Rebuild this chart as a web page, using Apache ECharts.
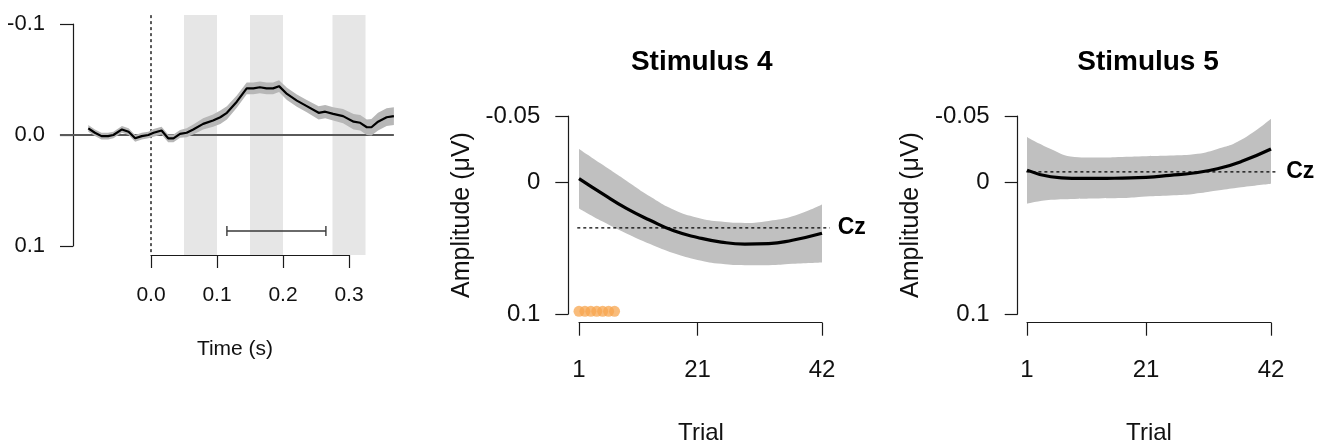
<!DOCTYPE html>
<html><head><meta charset="utf-8">
<script src="https://cdn.jsdelivr.net/npm/echarts@6/dist/echarts.min.js"></script>
<style>html,body{margin:0;padding:0;background:#fff}#c{width:1325px;height:444px}</style>
</head><body><div id="c"></div>
<script>
// ---- Left panel: ERP time course ----
const leftTime = [-0.095,-0.085,-0.075,-0.065,-0.057,-0.044,-0.034,-0.024,-0.014,-0.004,0.004,0.016,0.026,0.034,0.044,0.054,0.064,0.079,0.094,0.105,0.115,0.130,0.145,0.155,0.165,0.175,0.185,0.194,0.206,0.221,0.236,0.254,0.264,0.276,0.291,0.307,0.317,0.327,0.334,0.344,0.357,0.368];
const leftAmp = [-0.006,-0.002,0.001,0.001,0.000,-0.005,-0.003,0.003,0.001,0.000,-0.002,-0.004,0.003,0.003,-0.001,-0.002,-0.005,-0.010,-0.013,-0.016,-0.020,-0.030,-0.042,-0.042,-0.043,-0.042,-0.042,-0.044,-0.037,-0.031,-0.026,-0.020,-0.021,-0.019,-0.017,-0.012,-0.011,-0.007,-0.007,-0.012,-0.016,-0.017];
const leftSE = [0.003,0.003,0.003,0.003,0.003,0.003,0.003,0.003,0.003,0.003,0.0035,0.0035,0.0035,0.0035,0.0035,0.004,0.0045,0.005,0.0055,0.006,0.006,0.0055,0.0053,0.0053,0.0053,0.0053,0.0053,0.0053,0.0055,0.0055,0.0055,0.006,0.006,0.006,0.0065,0.007,0.007,0.007,0.0075,0.008,0.008,0.008];
const shadeStart = [0.05, 0.15, 0.275];
const shadeEnd = [0.10, 0.20, 0.325];
const errBarRange = [0.115, 0.265];
const errBarLevel = 0.0865;
const leftYTicks = [-0.1, 0.0, 0.1];
const leftXTicks = [0.0, 0.1, 0.2, 0.3];

// ---- Middle / right panels: amplitude over trials ----
const trialPts = [1,5,9,13,17,21,25,29,33,37,42];
const stim4Mean = [-0.0026,0.009,0.020,0.029,0.037,0.042,0.0455,0.0470,0.0467,0.0441,0.0388];
const stim4Low  = [-0.025,-0.013,-0.001,0.011,0.021,0.027,0.030,0.031,0.0295,0.026,0.017];
const stim4High = [0.020,0.030,0.039,0.047,0.054,0.059,0.062,0.063,0.063,0.062,0.061];
const stim5Mean = [-0.009,-0.004,-0.0028,-0.0027,-0.003,-0.0035,-0.005,-0.0068,-0.010,-0.0155,-0.025];
const stim5Low  = [-0.034,-0.025,-0.019,-0.0185,-0.019,-0.0195,-0.020,-0.021,-0.025,-0.032,-0.048];
const stim5High = [0.0165,0.0135,0.0128,0.0125,0.0122,0.011,0.0102,0.009,0.0065,0.004,0.0013];
const stim4Cz = 0.0347;
const stim5Cz = -0.0076;
const stim4SigTrials = [1,2,3,4,5,6,7];
const trialTicks = [1, 21, 42];
const ampTicks = [-0.05, 0, 0.1];
const titles = ['Stimulus 4', 'Stimulus 5'];

const FONT = "'Liberation Sans', Arial, Helvetica, sans-serif";
const AX = '#1a1a1a';

const chart = echarts.init(document.getElementById('c'), null, {renderer: 'canvas'});

const grids = [], xAxes = [], yAxes = [], series = [];
function hiddenAxis(min, max, extra) {
  return Object.assign({type: 'value', min, max, show: false}, extra || {});
}
function addGrid(g, xa, ya) {
  grids.push(Object.assign({containLabel: false}, g));
  const i = grids.length - 1;
  xAxes.push(Object.assign({gridIndex: i}, xa));
  yAxes.push(Object.assign({gridIndex: i}, ya));
  return i;
}

// ===== LEFT PANEL =====
// data grid: x [-0.15,0.4] -> 660 px/unit, 0 at x=151 ; y [-0.11,0.11] -> 1110 px/unit, 0 at y=135
const gL = addGrid({left: 52, top: 12.9, width: 363, height: 244.2},
  hiddenAxis(-0.15, 0.4), hiddenAxis(-0.11, 0.11, {inverse: true}));
// shaded windows
series.push({
  type: 'line', xAxisIndex: gL, yAxisIndex: gL, data: [], z: 0,
  markArea: {silent: true, itemStyle: {color: '#e6e6e6'},
    data: shadeStart.map((s, i) => [{coord: [s, -0.108]}, {coord: [shadeEnd[i], 0.108]}])}
});
// zero line
series.push({type: 'line', xAxisIndex: gL, yAxisIndex: gL, symbol: 'none', z: 1,
  lineStyle: {color: '#5a5a5a', width: 2}, data: [[-0.138, 0], [0.368, 0]]});
// stimulus onset dashed
series.push({type: 'line', xAxisIndex: gL, yAxisIndex: gL, symbol: 'none', z: 1,
  lineStyle: {color: '#000', width: 1.3, type: [3, 3]}, data: [[0, -0.108], [0, 0.108]]});
// SE band (polygon through the axis scales)
series.push({
  type: 'custom', xAxisIndex: gL, yAxisIndex: gL, data: [0], z: 2, silent: true,
  renderItem: (params, api) => {
    const pts = [];
    for (let i = 0; i < leftTime.length; i++) pts.push(api.coord([leftTime[i], leftAmp[i] - leftSE[i]]));
    for (let i = leftTime.length - 1; i >= 0; i--) pts.push(api.coord([leftTime[i], leftAmp[i] + leftSE[i]]));
    return {type: 'polygon', shape: {points: pts}, style: {fill: '#b7b7b7'}};
  }
});
series.push({type: 'line', xAxisIndex: gL, yAxisIndex: gL, symbol: 'none', z: 5,
  lineStyle: {color: '#000', width: 2.2}, data: leftTime.map((t, i) => [t, leftAmp[i]])});
// error bar
const eb = errBarRange;
series.push({type: 'line', xAxisIndex: gL, yAxisIndex: gL, symbol: 'none', z: 5,
  lineStyle: {color: '#3a3a3a', width: 1.4},
  data: [[eb[0], errBarLevel - 0.0045], [eb[0], errBarLevel + 0.0045], [eb[0], errBarLevel], [eb[1], errBarLevel], [eb[1], errBarLevel - 0.0045], [eb[1], errBarLevel + 0.0045]]});

// left y axis
addGrid({left: 73, top: 24, width: 2, height: 222},
  hiddenAxis(0, 1),
  {type: 'value', min: -0.1, max: 0.1, interval: 0.1, inverse: true, position: 'left',
   axisLine: {show: true, lineStyle: {color: AX, width: 1.2}},
   axisTick: {show: true, length: 13, lineStyle: {color: AX, width: 1.2}, customValues: leftYTicks},
   axisLabel: {show: true, margin: 28, fontSize: 22, fontFamily: FONT, color: '#111', customValues: leftYTicks,
     formatter: v => v.toFixed(1)},
   splitLine: {show: false}});
// left x axis
addGrid({left: 151, top: 200, width: 198, height: 55},
  {type: 'value', min: 0, max: 0.3, interval: 0.1, position: 'bottom',
   axisLine: {show: true, lineStyle: {color: AX, width: 1.2}},
   axisTick: {show: true, length: 13, lineStyle: {color: AX, width: 1.2}, customValues: leftXTicks},
   axisLabel: {show: true, margin: 30, fontSize: 21, fontFamily: FONT, color: '#111', customValues: leftXTicks,
     formatter: v => v.toFixed(1)},
   splitLine: {show: false}},
  hiddenAxis(0, 1));

// ===== TRIAL PANELS =====
function trialPanel(p) {
  const pxPerTrial = p.xw / 41;
  const g = addGrid({left: p.x1 - pxPerTrial, top: 116, width: 44 * pxPerTrial, height: 198},
    hiddenAxis(0, 44), hiddenAxis(-0.05, 0.1, {inverse: true}));
  const first = trialPts[0], last = trialPts[trialPts.length - 1];
  // confidence band: gray fill below the lower-bound curve, then white fill below the upper-bound curve
  series.push({type: 'line', xAxisIndex: g, yAxisIndex: g, symbol: 'none', smooth: 0.5, z: 2, silent: true,
    lineStyle: {width: 0, opacity: 0}, areaStyle: {color: '#c0c0c0', opacity: 1, origin: 'end'},
    data: trialPts.map((t, i) => [t, p.low[i]])});
  series.push({type: 'line', xAxisIndex: g, yAxisIndex: g, symbol: 'none', smooth: 0.5, z: 3, silent: true,
    lineStyle: {width: 0, opacity: 0}, areaStyle: {color: '#ffffff', opacity: 1, origin: 'end'},
    data: trialPts.map((t, i) => [t, p.high[i]])});
  // clean the anti-aliased band edges below the band
  [[first, p.high[0]], [last, p.high[p.high.length - 1]]].forEach(([t, h]) => {
    series.push({type: 'line', xAxisIndex: g, yAxisIndex: g, symbol: 'none', z: 4, silent: true,
      lineStyle: {color: '#ffffff', width: 2.5, cap: 'butt'}, data: [[t, h + 0.001], [t, 0.1]]});
  });
  series.push({type: 'line', xAxisIndex: g, yAxisIndex: g, symbol: 'none', smooth: 0.5, z: 5,
    lineStyle: {color: '#000', width: 3.2}, data: trialPts.map((t, i) => [t, p.mean[i]])});
  series.push({type: 'line', xAxisIndex: g, yAxisIndex: g, symbol: 'none', z: 6,
    lineStyle: {color: '#000', width: 1.3, type: [3, 3]}, data: [[p.czFrom, p.cz], [p.czTo, p.cz]],
    endLabel: {show: true, formatter: 'Cz', distance: 8, fontSize: 23, fontWeight: 'bold', fontFamily: FONT, color: '#000'}});
  if (p.sig) {
    series.push({type: 'scatter', xAxisIndex: g, yAxisIndex: g, symbol: 'circle', symbolSize: 11, z: 7,
      itemStyle: {color: '#f7a54f', opacity: 0.75}, data: p.sig.map(t => [t, 0.098])});
  }
  // y axis
  addGrid({left: p.yAxisX, top: 116, width: 2, height: 198},
    hiddenAxis(0, 1),
    {type: 'value', min: -0.05, max: 0.1, inverse: true, position: 'left',
     axisLine: {show: true, lineStyle: {color: AX, width: 1.2}},
     axisTick: {show: true, length: 13, lineStyle: {color: AX, width: 1.2}, customValues: ampTicks},
     axisLabel: {show: true, margin: 28, fontSize: 24, fontFamily: FONT, color: '#111', customValues: ampTicks,
       formatter: v => (v === 0 ? '0' : String(v))},
     splitLine: {show: false}});
  // x axis
  addGrid({left: p.x1, top: 270, width: p.xw, height: 52.7},
    {type: 'value', min: 1, max: 42, position: 'bottom',
     axisLine: {show: true, lineStyle: {color: AX, width: 1.2}},
     axisTick: {show: true, length: 13, lineStyle: {color: AX, width: 1.2}, customValues: trialTicks},
     axisLabel: {show: true, margin: 36, fontSize: 24, fontFamily: FONT, color: '#111', customValues: trialTicks},
     splitLine: {show: false}},
    hiddenAxis(0, 1));
}
trialPanel({x1: 579, xw: 243, yAxisX: 568.3, mean: stim4Mean, low: stim4Low, high: stim4High,
  cz: stim4Cz, czFrom: 0.71, czTo: 43.3, sig: stim4SigTrials});
trialPanel({x1: 1027, xw: 244, yAxisX: 1017.7, mean: stim5Mean, low: stim5Low, high: stim5High,
  cz: stim5Cz, czFrom: 0.9, czTo: 43.2, sig: null});

const graphic = [
  {type: 'text', x: 235, y: 349, style: {text: 'Time (s)', font: `21px ${FONT}`, fill: '#111', align: 'center', verticalAlign: 'middle'}},
  {type: 'text', x: 701.7, y: 62, style: {text: titles[0], font: `bold 28px ${FONT}`, fill: '#000', align: 'center', verticalAlign: 'middle'}},
  {type: 'text', x: 1148, y: 62, style: {text: titles[1], font: `bold 28px ${FONT}`, fill: '#000', align: 'center', verticalAlign: 'middle'}},
  {type: 'text', x: 701, y: 433, style: {text: 'Trial', font: `24px ${FONT}`, fill: '#111', align: 'center', verticalAlign: 'middle'}},
  {type: 'text', x: 1149, y: 433, style: {text: 'Trial', font: `24px ${FONT}`, fill: '#111', align: 'center', verticalAlign: 'middle'}},
  {type: 'text', x: 462, y: 215, rotation: Math.PI / 2, style: {text: 'Amplitude (\u03bcV)', font: `25px ${FONT}`, fill: '#111', align: 'center', verticalAlign: 'middle'}},
  {type: 'text', x: 911, y: 215, rotation: Math.PI / 2, style: {text: 'Amplitude (\u03bcV)', font: `25px ${FONT}`, fill: '#111', align: 'center', verticalAlign: 'middle'}}
];

chart.setOption({
  animation: false,
  backgroundColor: '#fff',
  grid: grids, xAxis: xAxes, yAxis: yAxes, series, graphic
});
</script></body></html>
